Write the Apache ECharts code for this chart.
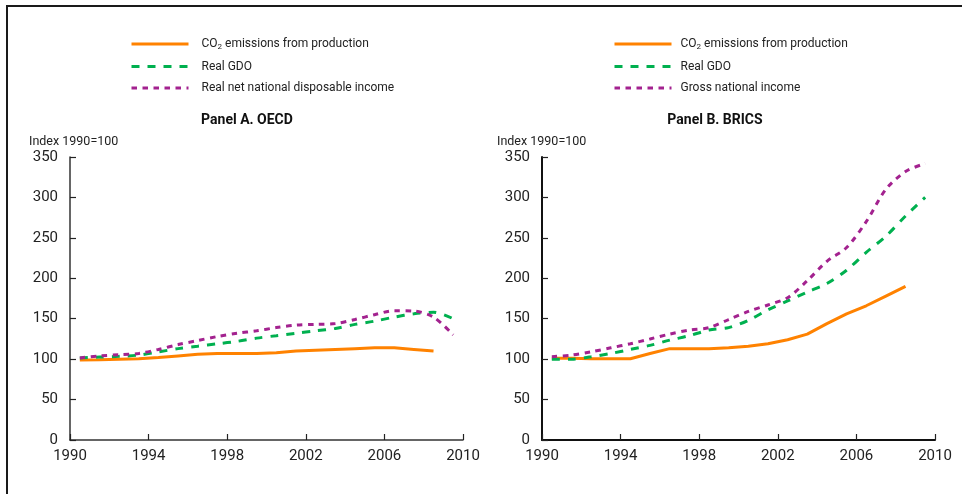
<!DOCTYPE html>
<html><head><meta charset="utf-8">
<script src="https://cdn.jsdelivr.net/npm/echarts@6/dist/echarts.min.js"></script>
<style>html,body{margin:0;padding:0;background:#fff}#c{width:962px;height:494px}</style>
</head><body><div id="c"></div><script>
// Annual data 1990-2009 (index 1990=100)
const years = ['1990','1991','1992','1993','1994','1995','1996','1997','1998','1999','2000','2001','2002','2003','2004','2005','2006','2007','2008','2009'];
const xTickMin = 1990, xTickMax = 2010, xTickStep = 4;
const yTickMin = 0, yTickMax = 350, yTickStep = 50;

const seriesNamesA = ['CO2 emissions from production', 'Real GDO', 'Real net national disposable income'];
const seriesNamesB = ['CO2 emissions from production', 'Real GDO', 'Gross national income'];

// Panel A. OECD
const oecdCO2  = [99, 99.3, 100, 100.5, 102, 104, 106, 107, 107, 107, 108, 110, 111, 112, 113, 114, 114, 112, 110];
const oecdGDO  = [101.5, 102.5, 103.5, 105, 109, 113, 116, 119, 122, 126, 129, 132, 135, 138, 143, 147, 152, 156, 158, 150];
const oecdNNDI = [101.5, 104, 105.5, 107, 112, 118, 123, 128, 132, 135, 139, 142, 143, 144, 149, 155, 160, 159.5, 152, 130];

// Panel B. BRICS
const bricsCO2 = [101, 101, 100.5, 100.5, 100.5, 107, 113, 113, 113, 114, 116, 119, 124, 131, 144, 156, 166, 178, 190];
const bricsGDO = [100, 100, 103, 107, 112, 117, 123.5, 129, 136, 139, 148, 161, 172, 183, 193.5, 210, 232, 252, 277, 300];
const bricsGNI = [103, 105, 109, 114, 119, 125, 131, 136, 139, 149, 159, 167, 176, 197, 221, 238, 270, 310, 332, 342];

const FONT = 'Roboto';
const COL_CO2 = '#FF8200', COL_GDO = '#00B04F', COL_INC = '#A3228F';

function line(name, data, xi, yi, color, type, smooth) {
  return {
    name, type: 'line', data, xAxisIndex: xi, yAxisIndex: yi,
    symbol: 'none', showSymbol: false, smooth: smooth, animation: false,
    lineStyle: { color, width: 3, type, cap: 'butt' },
    itemStyle: { color }
  };
}

function valueX(grid) {
  return {
    type: 'value', gridIndex: grid, min: xTickMin, max: xTickMax, interval: xTickStep,
    position: 'bottom',
    axisLine: { show: true, lineStyle: { color: grid === 0 ? '#333' : '#111', width: grid === 0 ? 1.5 : 2 } },
    axisTick: { show: true, inside: true, length: 6, lineStyle: { color: '#222', width: 1.2 } },
    axisLabel: { formatter: v => String(v), fontSize: 15, color: '#222', fontFamily: FONT, margin: 9 },
    splitLine: { show: false }
  };
}
function valueY(grid) {
  return {
    type: 'value', gridIndex: grid, min: yTickMin, max: yTickMax, interval: yTickStep,
    axisLine: { show: true, lineStyle: { color: grid === 0 ? '#333' : '#111', width: grid === 0 ? 1.5 : 2 } },
    axisTick: { show: true, inside: true, length: 6, lineStyle: { color: '#222', width: 1.2 } },
    axisLabel: { fontSize: 15, color: '#222', fontFamily: FONT, margin: 12 },
    splitLine: { show: false }
  };
}
function legend(left, names, pad) {
  return {
    left, top: 38, padding: 0, orient: 'vertical', itemWidth: 57, itemHeight: 14, itemGap: 9.5,
    selectedMode: false, data: names,
    itemStyle: { opacity: 0, borderWidth: 0 },
    lineStyle: { width: 3 },
    formatter: n => n.replace('CO2', 'CO{sub|2}'),
    textStyle: { fontSize: 12, color: '#222', fontFamily: FONT, padding: [0, 0, 0, pad],
      rich: { sub: { fontSize: 8, fontFamily: FONT, color: '#222', padding: [6, 0, 0, 0] } } }
  };
}

const chart = echarts.init(document.getElementById('c'), null, { renderer: 'canvas' });
chart.setOption({
  animation: false,
  backgroundColor: '#fff',
  grid: [
    { left: 70, right: 499, top: 157, bottom: 54 },
    { left: 542, right: 27, top: 157, bottom: 54 }
  ],
  xAxis: [
    { type: 'category', gridIndex: 0, data: years, boundaryGap: true, show: false },
    valueX(0),
    { type: 'category', gridIndex: 1, data: years, boundaryGap: true, show: false },
    valueX(1)
  ],
  yAxis: [valueY(0), valueY(1)],
  legend: [legend(130, seriesNamesA, 8), legend(613, seriesNamesB, 4)],
  graphic: [
    { type: 'line', shape: { x1: 6, y1: 6, x2: 962, y2: 6 }, style: { stroke: '#1a1a1a', lineWidth: 2 } },
    { type: 'line', shape: { x1: 7, y1: 5, x2: 7, y2: 494 }, style: { stroke: '#1a1a1a', lineWidth: 2 } },
    { type: 'text', x: 29, y: 142, style: { text: 'Index 1990=100', fontSize: 12.5, fontFamily: FONT, fill: '#222', align: 'left', verticalAlign: 'middle' } },
    { type: 'text', x: 497, y: 142, style: { text: 'Index 1990=100', fontSize: 12.5, fontFamily: FONT, fill: '#222', align: 'left', verticalAlign: 'middle' } },
    { type: 'text', x: 247, y: 120, style: { text: 'Panel A. OECD', fontSize: 14, fontWeight: 'bold', fontFamily: FONT, fill: '#111', align: 'center', verticalAlign: 'middle' } },
    { type: 'text', x: 715, y: 120, style: { text: 'Panel B. BRICS', fontSize: 14, fontWeight: 'bold', fontFamily: FONT, fill: '#111', align: 'center', verticalAlign: 'middle' } }
  ],
  series: [
    line(seriesNamesA[0], oecdCO2, 0, 0, COL_CO2, 'solid', false),
    line(seriesNamesA[1], oecdGDO, 0, 0, COL_GDO, [8, 8], 0.3),
    line(seriesNamesA[2], oecdNNDI, 0, 0, COL_INC, [5.5, 5.5], 0.3),
    line(seriesNamesB[0], bricsCO2, 2, 1, COL_CO2, 'solid', false),
    line(seriesNamesB[1], bricsGDO, 2, 1, COL_GDO, [8, 8], 0.3),
    line(seriesNamesB[2], bricsGNI, 2, 1, COL_INC, [5.5, 5.5], 0.3)
  ]
});
</script></body></html>
